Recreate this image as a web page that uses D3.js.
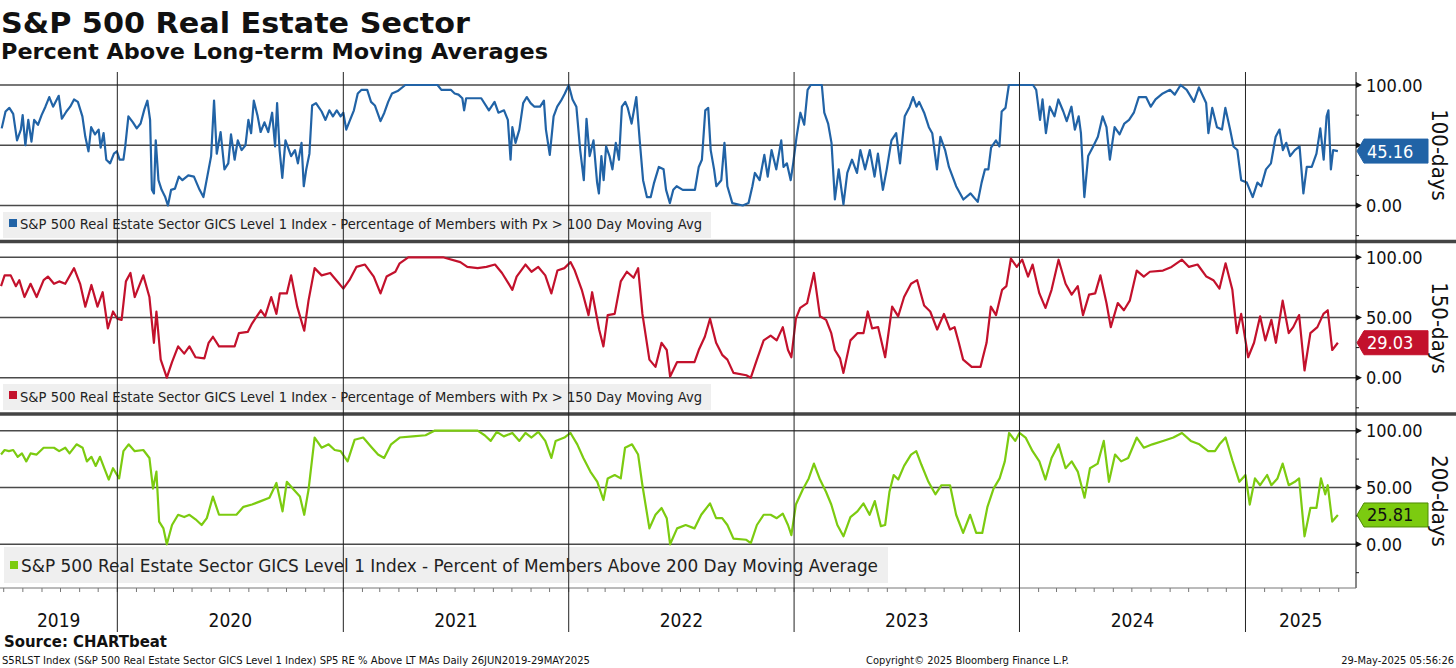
<!DOCTYPE html>
<html>
<head>
<meta charset="utf-8">
<script src="https://cdn.jsdelivr.net/npm/d3@7"></script>
<style>
  body { margin: 0; background: #fff; }
  svg { display: block; }
  text { font-family: "DejaVu Sans Condensed", "DejaVu Sans", sans-serif; font-stretch: condensed; fill: #111; }
</style>
</head>
<body>
<svg id="chart" width="1456" height="668"></svg>
<script>
// ---- data (time as decimal year, value in %) ----
var pct100 = [[2019.487,64],[2019.504,78],[2019.521,81],[2019.538,76],[2019.555,54],[2019.572,63],[2019.580,75],[2019.592,50],[2019.605,71],[2019.619,53],[2019.631,71],[2019.648,67],[2019.664,75],[2019.681,82],[2019.698,90],[2019.715,82],[2019.740,91],[2019.754,72],[2019.774,78],[2019.791,82],[2019.808,88],[2019.825,86],[2019.845,74],[2019.858,57],[2019.872,45],[2019.884,65],[2019.901,59],[2019.917,63],[2019.926,48],[2019.939,60],[2019.951,38],[2019.968,35],[2019.985,43],[2019.998,45],[2020.010,38],[2020.027,38],[2020.035,49],[2020.049,74],[2020.069,69],[2020.086,64],[2020.103,68],[2020.120,80],[2020.133,87],[2020.145,71],[2020.153,13],[2020.162,10],[2020.170,54],[2020.182,21],[2020.196,13],[2020.212,7],[2020.224,0],[2020.238,13],[2020.255,14],[2020.272,24],[2020.288,21],[2020.314,25],[2020.339,24],[2020.364,13],[2020.381,7],[2020.398,24],[2020.415,41],[2020.428,87],[2020.440,43],[2020.457,61],[2020.474,30],[2020.491,35],[2020.503,59],[2020.519,38],[2020.533,54],[2020.550,46],[2020.567,50],[2020.580,71],[2020.592,60],[2020.604,87],[2020.621,74],[2020.634,61],[2020.651,69],[2020.668,61],[2020.685,77],[2020.698,49],[2020.707,85],[2020.718,46],[2020.730,23],[2020.744,54],[2020.769,41],[2020.786,46],[2020.799,35],[2020.815,52],[2020.825,16],[2020.836,30],[2020.850,43],[2020.862,83],[2020.879,85],[2020.904,78],[2020.921,71],[2020.938,79],[2020.954,74],[2020.971,79],[2020.988,74],[2021.000,77],[2021.013,63],[2021.030,71],[2021.047,79],[2021.064,93],[2021.081,96],[2021.106,96],[2021.123,86],[2021.140,83],[2021.165,70],[2021.182,77],[2021.199,86],[2021.216,93],[2021.241,95],[2021.275,100],[2021.342,100],[2021.418,100],[2021.435,96],[2021.477,96],[2021.494,93],[2021.511,92],[2021.528,89],[2021.536,79],[2021.545,89],[2021.612,89],[2021.646,79],[2021.671,86],[2021.688,77],[2021.713,79],[2021.730,71],[2021.742,38],[2021.750,65],[2021.764,52],[2021.781,63],[2021.798,85],[2021.814,90],[2021.831,85],[2021.848,82],[2021.873,82],[2021.890,87],[2021.899,63],[2021.916,42],[2021.933,74],[2021.949,82],[2021.966,87],[2021.983,93],[2022.000,100],[2022.017,88],[2022.034,82],[2022.051,46],[2022.067,21],[2022.079,72],[2022.093,41],[2022.110,54],[2022.126,19],[2022.134,10],[2022.145,41],[2022.155,21],[2022.166,49],[2022.181,41],[2022.194,30],[2022.209,52],[2022.223,38],[2022.236,82],[2022.251,86],[2022.262,81],[2022.279,68],[2022.300,90],[2022.315,54],[2022.330,21],[2022.347,7],[2022.364,7],[2022.379,19],[2022.400,32],[2022.421,30],[2022.432,13],[2022.449,2],[2022.464,13],[2022.479,16],[2022.506,13],[2022.560,13],[2022.577,32],[2022.591,38],[2022.606,79],[2022.619,81],[2022.630,46],[2022.645,30],[2022.655,16],[2022.677,21],[2022.691,52],[2022.704,16],[2022.726,2],[2022.772,0],[2022.798,2],[2022.815,16],[2022.826,27],[2022.847,21],[2022.868,42],[2022.883,24],[2022.900,46],[2022.921,30],[2022.943,54],[2022.953,32],[2022.968,35],[2022.985,21],[2022.996,35],[2023.011,57],[2023.028,77],[2023.045,67],[2023.060,96],[2023.074,100],[2023.123,100],[2023.134,77],[2023.151,68],[2023.166,52],[2023.181,5],[2023.198,30],[2023.219,1],[2023.236,27],[2023.257,38],[2023.279,27],[2023.294,46],[2023.315,30],[2023.336,46],[2023.357,24],[2023.372,43],[2023.394,13],[2023.411,30],[2023.432,54],[2023.453,60],[2023.470,35],[2023.491,74],[2023.513,82],[2023.528,90],[2023.543,82],[2023.555,86],[2023.577,77],[2023.598,65],[2023.613,60],[2023.634,30],[2023.649,57],[2023.670,46],[2023.687,32],[2023.719,16],[2023.751,5],[2023.783,10],[2023.815,3],[2023.832,19],[2023.847,30],[2023.862,30],[2023.874,48],[2023.896,54],[2023.911,49],[2023.921,78],[2023.938,81],[2023.953,100],[2023.985,100],[2024.060,100],[2024.074,96],[2024.091,71],[2024.102,88],[2024.117,60],[2024.134,82],[2024.155,74],[2024.172,88],[2024.194,78],[2024.209,70],[2024.230,82],[2024.245,63],[2024.262,74],[2024.272,60],[2024.287,7],[2024.304,41],[2024.326,49],[2024.347,57],[2024.368,74],[2024.385,65],[2024.400,38],[2024.421,65],[2024.443,59],[2024.464,68],[2024.485,71],[2024.506,77],[2024.528,90],[2024.560,90],[2024.581,82],[2024.602,88],[2024.634,93],[2024.666,96],[2024.687,92],[2024.713,100],[2024.740,96],[2024.772,86],[2024.794,98],[2024.826,85],[2024.836,60],[2024.853,81],[2024.874,65],[2024.896,63],[2024.911,81],[2024.932,63],[2024.947,49],[2024.964,46],[2024.981,21],[2025.006,19],[2025.032,7],[2025.053,19],[2025.070,16],[2025.091,30],[2025.113,35],[2025.134,57],[2025.151,63],[2025.166,46],[2025.181,52],[2025.198,41],[2025.219,46],[2025.240,49],[2025.257,10],[2025.272,32],[2025.294,32],[2025.315,43],[2025.332,64],[2025.347,38],[2025.360,74],[2025.368,79],[2025.379,30],[2025.389,46],[2025.410,45.16]];

var pct150 = [[2019.484,76],[2019.500,85],[2019.527,85],[2019.550,76],[2019.565,81],[2019.588,67],[2019.615,78],[2019.642,67],[2019.673,81],[2019.692,84],[2019.719,78],[2019.742,80],[2019.769,78],[2019.808,91],[2019.835,78],[2019.858,59],[2019.885,77],[2019.912,59],[2019.935,71],[2019.958,41],[2019.981,55],[2020.000,49],[2020.019,48],[2020.038,80],[2020.058,87],[2020.077,67],[2020.115,85],[2020.142,67],[2020.162,29],[2020.173,55],[2020.192,15],[2020.219,0],[2020.242,13],[2020.269,26],[2020.296,20],[2020.319,26],[2020.346,17],[2020.385,16],[2020.404,29],[2020.423,34],[2020.450,26],[2020.481,26],[2020.519,26],[2020.538,37],[2020.577,38],[2020.596,45],[2020.635,56],[2020.654,51],[2020.681,67],[2020.704,53],[2020.719,70],[2020.750,70],[2020.769,85],[2020.796,59],[2020.827,39],[2020.846,64],[2020.873,91],[2020.904,85],[2020.942,87],[2020.969,81],[2021.000,74],[2021.027,81],[2021.058,92],[2021.096,94],[2021.135,84],[2021.165,70],[2021.192,84],[2021.231,88],[2021.250,95],[2021.288,100],[2021.365,100],[2021.442,100],[2021.519,96],[2021.550,92],[2021.596,91],[2021.635,92],[2021.673,94],[2021.704,87],[2021.750,73],[2021.769,84],[2021.808,94],[2021.835,88],[2021.865,92],[2021.896,85],[2021.923,70],[2021.950,89],[2021.981,91],[2022.008,96],[2022.027,89],[2022.058,73],[2022.088,52],[2022.104,71],[2022.135,40],[2022.154,26],[2022.173,52],[2022.204,53],[2022.231,80],[2022.258,88],[2022.288,83],[2022.308,91],[2022.327,53],[2022.358,15],[2022.385,9],[2022.412,29],[2022.435,23],[2022.450,1],[2022.481,13],[2022.519,13],[2022.558,13],[2022.577,23],[2022.604,34],[2022.627,49],[2022.654,29],[2022.681,19],[2022.704,15],[2022.731,4],[2022.788,2],[2022.808,0],[2022.835,15],[2022.865,31],[2022.896,35],[2022.923,31],[2022.950,42],[2022.973,23],[2022.988,17],[2023.008,49],[2023.027,58],[2023.058,62],[2023.088,87],[2023.115,51],[2023.142,48],[2023.165,37],[2023.181,23],[2023.204,16],[2023.219,4],[2023.250,31],[2023.281,37],[2023.308,37],[2023.327,55],[2023.346,41],[2023.373,42],[2023.404,17],[2023.435,59],[2023.462,51],[2023.488,67],[2023.519,78],[2023.546,81],[2023.577,60],[2023.604,55],[2023.635,40],[2023.665,53],[2023.692,40],[2023.712,42],[2023.731,29],[2023.750,15],[2023.788,9],[2023.827,9],[2023.854,29],[2023.873,59],[2023.896,52],[2023.923,73],[2023.942,76],[2023.962,99],[2023.988,92],[2024.012,98],[2024.038,84],[2024.058,94],[2024.088,70],[2024.115,58],[2024.142,73],[2024.173,98],[2024.204,78],[2024.231,69],[2024.258,76],[2024.281,52],[2024.308,69],[2024.335,70],[2024.358,85],[2024.385,62],[2024.404,42],[2024.435,62],[2024.462,56],[2024.488,64],[2024.519,89],[2024.550,84],[2024.577,88],[2024.635,89],[2024.673,92],[2024.719,98],[2024.750,92],[2024.788,94],[2024.827,84],[2024.858,81],[2024.885,74],[2024.912,95],[2024.942,73],[2024.962,37],[2024.981,53],[2025.012,17],[2025.038,29],[2025.065,51],[2025.088,31],[2025.115,48],[2025.135,29],[2025.165,64],[2025.192,37],[2025.212,42],[2025.238,52],[2025.262,6],[2025.288,37],[2025.319,42],[2025.346,53],[2025.365,56],[2025.385,23],[2025.410,29.03]];

var pct200 = [[2019.484,79],[2019.500,83],[2019.519,82],[2019.538,83],[2019.558,77],[2019.577,80],[2019.596,73],[2019.615,80],[2019.642,79],[2019.673,85],[2019.719,85],[2019.742,82],[2019.769,85],[2019.788,80],[2019.819,88],[2019.846,85],[2019.865,73],[2019.885,77],[2019.904,69],[2019.923,77],[2019.942,67],[2019.962,57],[2019.981,67],[2020.008,58],[2020.027,82],[2020.050,88],[2020.077,82],[2020.115,83],[2020.142,76],[2020.158,49],[2020.173,64],[2020.185,20],[2020.204,14],[2020.219,0],[2020.242,17],[2020.269,26],[2020.296,24],[2020.319,26],[2020.346,22],[2020.373,17],[2020.396,23],[2020.423,42],[2020.450,26],[2020.488,26],[2020.527,26],[2020.558,33],[2020.596,35],[2020.635,38],[2020.673,41],[2020.704,54],[2020.731,29],[2020.750,55],[2020.781,48],[2020.808,42],[2020.827,26],[2020.846,48],[2020.873,94],[2020.904,85],[2020.935,88],[2020.962,83],[2020.988,82],[2021.019,73],[2021.050,92],[2021.088,94],[2021.127,85],[2021.154,79],[2021.181,76],[2021.212,88],[2021.250,94],[2021.308,95],[2021.365,96],[2021.404,100],[2021.596,100],[2021.627,96],[2021.654,91],[2021.681,99],[2021.712,95],[2021.750,98],[2021.781,91],[2021.808,98],[2021.835,94],[2021.865,99],[2021.896,91],[2021.923,76],[2021.942,91],[2021.981,94],[2022.008,98],[2022.038,88],[2022.065,76],[2022.096,64],[2022.127,55],[2022.154,39],[2022.173,58],[2022.204,61],[2022.231,58],[2022.250,85],[2022.281,88],[2022.308,79],[2022.327,52],[2022.358,14],[2022.385,26],[2022.412,32],[2022.435,23],[2022.450,0],[2022.481,14],[2022.519,17],[2022.558,14],[2022.588,26],[2022.627,36],[2022.654,23],[2022.681,23],[2022.704,17],[2022.731,5],[2022.788,4],[2022.808,1],[2022.835,17],[2022.865,26],[2022.896,26],[2022.923,23],[2022.950,27],[2022.973,17],[2022.988,8],[2023.008,35],[2023.038,48],[2023.065,58],[2023.088,71],[2023.115,57],[2023.142,46],[2023.165,35],[2023.192,17],[2023.219,7],[2023.250,24],[2023.281,29],[2023.308,36],[2023.335,26],[2023.358,38],[2023.385,16],[2023.404,17],[2023.423,46],[2023.442,61],[2023.462,57],[2023.488,69],[2023.519,79],[2023.542,82],[2023.565,70],[2023.596,55],[2023.627,44],[2023.654,52],[2023.692,52],[2023.719,26],[2023.750,10],[2023.781,26],[2023.808,10],[2023.835,10],[2023.858,33],[2023.885,49],[2023.912,58],[2023.935,73],[2023.954,98],[2023.981,91],[2024.000,98],[2024.027,94],[2024.058,82],[2024.088,73],[2024.115,57],[2024.142,76],[2024.173,88],[2024.204,67],[2024.231,73],[2024.258,64],[2024.288,41],[2024.312,67],[2024.346,71],[2024.373,91],[2024.396,55],[2024.423,79],[2024.450,73],[2024.481,76],[2024.519,94],[2024.550,85],[2024.588,88],[2024.635,91],[2024.681,94],[2024.719,98],[2024.758,91],[2024.796,88],[2024.835,82],[2024.865,82],[2024.885,88],[2024.912,94],[2024.942,74],[2024.973,55],[2025.000,61],[2025.019,35],[2025.042,58],[2025.065,52],[2025.096,61],[2025.115,52],[2025.142,58],[2025.165,71],[2025.192,52],[2025.219,55],[2025.238,58],[2025.262,7],[2025.288,32],[2025.315,32],[2025.335,58],[2025.354,44],[2025.365,52],[2025.385,20],[2025.410,25.81]];

var lastValues = [45.16, 29.03, 25.81];
var panelNames = ["100-days", "150-days", "200-days"];
var legendTexts = [
  "S&P 500 Real Estate Sector GICS Level 1 Index - Percentage of Members with Px > 100 Day Moving Avg",
  "S&P 500 Real Estate Sector GICS Level 1 Index - Percentage of Members with Px > 150 Day Moving Avg",
  "S&P 500 Real Estate Sector GICS Level 1 Index - Percent of Members Above 200 Day Moving Average"
];
var majorTicks = [0, 50, 100];
var minorTicks = [-25, 25, 75];
var yearLabels = [2019, 2020, 2021, 2022, 2023, 2024, 2025];

// ---- layout ----
var plotRight = 1356, plotTop = 72, plotBottom = 588;
var svg = d3.select("#chart");

function toDate(y) {
  var yr = Math.floor(y), a = Date.UTC(yr, 0, 1), b = Date.UTC(yr + 1, 0, 1);
  return new Date(a + (y - yr) * (b - a));
}

var x = d3.scaleUtc()
  .domain([new Date(Date.UTC(2019, 5, 25)), new Date(Date.UTC(2025, 5, 29))])
  .range([0, plotRight]);

var panels = [
  { data: pct100, top: plotTop, bottom: 240, r0: 205.5, r100: 85, color: "#2163a6", badgeInk: "#fff", badgeStroke: "#2163a6",
    legend: { x: 3, y: 212, w: 708, h: 26, font: 13.5, base: 229, len: 682, mark: [9, 219, 8] }, labelY: 155 },
  { data: pct150, top: 244, bottom: 412, r0: 377.7, r100: 257.3, color: "#c3112c", badgeInk: "#fff", badgeStroke: "#c3112c",
    legend: { x: 3, y: 384, w: 708, h: 26, font: 13.5, base: 401.5, len: 682, mark: [9, 391, 8] }, labelY: 328 },
  { data: pct200, top: 416, bottom: plotBottom, r0: 544.3, r100: 430.7, color: "#7ccb10", badgeInk: "#111", badgeStroke: "#4f8a05",
    legend: { x: 4, y: 547, w: 884, h: 36, font: 17, base: 571.5, len: 857, mark: [10, 561, 8] }, labelY: 501 }
];

var defs = svg.append("defs");

panels.forEach(function(p, i) {
  var y = d3.scaleLinear().domain([0, 100]).range([p.r0, p.r100]);
  var g = svg.append("g");

  defs.append("clipPath").attr("id", "clip" + i)
    .append("rect").attr("x", 0).attr("y", p.top).attr("width", plotRight).attr("height", p.bottom - p.top);

  // horizontal grid
  g.selectAll(".grid").data(majorTicks).enter().append("line")
    .attr("x1", 0).attr("x2", plotRight)
    .attr("y1", function(d) { return y(d); }).attr("y2", function(d) { return y(d); })
    .attr("stroke", "#4a4a4a").attr("stroke-width", 1.6);

  // legend box
  var L = p.legend;
  g.append("rect").attr("x", L.x).attr("y", L.y).attr("width", L.w).attr("height", L.h).attr("fill", "#efefef");
  g.append("rect").attr("x", L.mark[0]).attr("y", L.mark[1]).attr("width", L.mark[2]).attr("height", L.mark[2]).attr("fill", p.color);
  g.append("text").attr("x", L.mark[0] + L.mark[2] + 3).attr("y", L.base)
    .attr("font-size", L.font).attr("textLength", L.len).attr("lengthAdjust", "spacingAndGlyphs")
    .style("fill", "#222").text(legendTexts[i]);

  // series line
  var line = d3.line()
    .x(function(d) { return x(toDate(d[0])); })
    .y(function(d) { return y(d[1]); });
  g.append("path").datum(p.data)
    .attr("clip-path", "url(#clip" + i + ")")
    .attr("fill", "none").attr("stroke", p.color).attr("stroke-width", 2.2)
    .attr("stroke-linejoin", "round").attr("d", line);

  // right axis ticks and labels
  g.selectAll(".arrow").data(majorTicks).enter().append("path")
    .attr("d", function(d) { var yy = y(d); return "M" + plotRight + "," + (yy - 3) + "L" + (plotRight + 6) + "," + yy + "L" + plotRight + "," + (yy + 3) + "Z"; })
    .attr("fill", "#111");
  g.selectAll(".minor").data(minorTicks).enter().append("line")
    .attr("x1", plotRight).attr("x2", plotRight + 3)
    .attr("y1", function(d) { return y(d); }).attr("y2", function(d) { return y(d); })
    .attr("stroke", "#111");
  g.selectAll(".lab").data(majorTicks).enter().append("text")
    .attr("x", plotRight + 10).attr("y", function(d) { return y(d) + 6.5; })
    .attr("font-size", 18).text(function(d) { return d3.format(".2f")(d); });

  // last value badge
  var yv = y(lastValues[i]);
  g.append("path")
    .attr("d", "M" + (plotRight + 1) + "," + yv + "L" + (plotRight + 8) + "," + (yv - 12) + "L" + (plotRight + 72) + "," + (yv - 12) +
      "L" + (plotRight + 72) + "," + (yv + 12) + "L" + (plotRight + 8) + "," + (yv + 12) + "Z")
    .attr("fill", p.color).attr("stroke", p.badgeStroke).attr("stroke-width", 1);
  g.append("text").attr("x", plotRight + 11).attr("y", yv + 6.5).attr("font-size", 18)
    .style("fill", p.badgeInk).text(d3.format(".2f")(lastValues[i]));

  // rotated panel name
  g.append("text").attr("transform", "translate(1440," + p.labelY + ") rotate(90)")
    .attr("text-anchor", "middle").attr("dy", "0.35em").attr("font-size", 22).text(panelNames[i]);
});

// panel separators
[241.5, 414].forEach(function(sy) {
  svg.append("line").attr("x1", 0).attr("x2", 1456).attr("y1", sy).attr("y2", sy)
    .attr("stroke", "#444").attr("stroke-width", 3.5);
});

// right axis line and bottom axis
svg.append("line").attr("x1", plotRight).attr("x2", plotRight).attr("y1", plotTop).attr("y2", plotBottom).attr("stroke", "#111");
svg.append("line").attr("x1", 0).attr("x2", plotRight).attr("y1", plotBottom).attr("y2", plotBottom).attr("stroke", "#777");
svg.selectAll(".mt").data(x.ticks(d3.utcMonth.every(1))).enter().append("line")
  .attr("x1", function(d) { return x(d); }).attr("x2", function(d) { return x(d); })
  .attr("y1", plotBottom).attr("y2", plotBottom + 4).attr("stroke", "#777");

// year boundaries
var yearStarts = yearLabels.slice(1).map(function(yr) { return new Date(Date.UTC(yr, 0, 1)); });
svg.selectAll(".yl").data(yearStarts).enter().append("line")
  .attr("x1", function(d) { return x(d); }).attr("x2", function(d) { return x(d); })
  .attr("y1", plotTop).attr("y2", 632).attr("stroke", "#222").attr("stroke-width", 1);

// year labels centred in visible span
svg.selectAll(".yt").data(yearLabels).enter().append("text")
  .attr("x", function(yr) {
    var a = Math.max(x(new Date(Date.UTC(yr, 0, 1))), 0);
    var b = Math.min(x(new Date(Date.UTC(yr + 1, 0, 1))), plotRight);
    return (a + b) / 2;
  })
  .attr("y", 627).attr("text-anchor", "middle").attr("font-size", 19).text(function(yr) { return yr; });

// titles
svg.append("text").attr("x", 1).attr("y", 33).attr("font-size", 29).attr("font-weight", "bold")
  .attr("textLength", 469).attr("lengthAdjust", "spacingAndGlyphs")
  .style("font-family", "'DejaVu Sans', sans-serif").style("font-stretch", "normal").text("S&P 500 Real Estate Sector");
svg.append("text").attr("x", 1).attr("y", 59).attr("font-size", 21).attr("font-weight", "bold")
  .attr("textLength", 547).attr("lengthAdjust", "spacingAndGlyphs")
  .style("font-family", "'DejaVu Sans', sans-serif").style("font-stretch", "normal").text("Percent Above Long-term Moving Averages");

// footer
svg.append("text").attr("x", 4).attr("y", 647).attr("font-size", 15).attr("font-weight", "bold")
  .attr("textLength", 163).attr("lengthAdjust", "spacingAndGlyphs")
  .style("font-family", "'DejaVu Sans', sans-serif").style("font-stretch", "normal").text("Source: CHARTbeat");
svg.append("text").attr("x", 2).attr("y", 664).attr("font-size", 11)
  .attr("textLength", 588).attr("lengthAdjust", "spacingAndGlyphs")
  .text("S5RLST Index (S&P 500 Real Estate Sector GICS Level 1 Index) SP5 RE % Above LT MAs  Daily 26JUN2019-29MAY2025");
svg.append("text").attr("x", 866).attr("y", 664).attr("font-size", 11)
  .attr("textLength", 203).attr("lengthAdjust", "spacingAndGlyphs")
  .text("Copyright\u00a9 2025 Bloomberg Finance L.P.");
svg.append("text").attr("x", 1454).attr("y", 664).attr("font-size", 11).attr("text-anchor", "end")
  .text("29-May-2025 05:56:26");
</script>
</body>
</html>
